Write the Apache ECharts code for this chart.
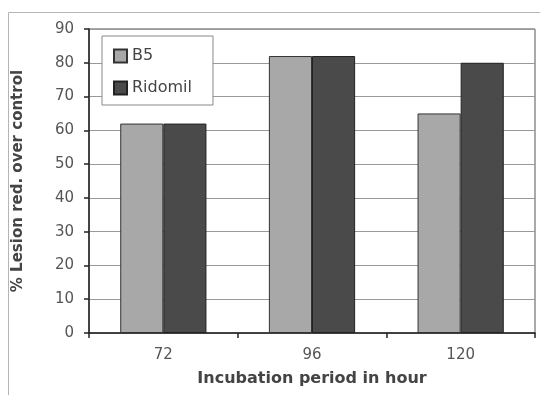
<!DOCTYPE html>
<html>
<head>
<meta charset="utf-8">
<script src="https://cdn.jsdelivr.net/npm/echarts@6/dist/echarts.min.js"></script>
<style>
  html, body { margin: 0; padding: 0; background: #fff; }
  #chart { width: 540px; height: 395px; }
</style>
</head>
<body>
<div id="chart"></div>
<script>
const categories = ['72', '96', '120'];
const b5Values = [62, 82, 65];
const ridomilValues = [62, 82, 80];
const yTicks = [0, 10, 20, 30, 40, 50, 60, 70, 80, 90];

const chart = echarts.init(document.getElementById('chart'));
const font = 'DejaVu Sans, sans-serif';

chart.setOption({
  backgroundColor: '#fff',
  animation: false,
  graphic: [
    {
      type: 'rect',
      shape: { x: 8.5, y: 12.5, width: 540, height: 400 },
      style: { fill: 'none', stroke: '#b5b5b5', lineWidth: 1 },
      silent: true
    }
  ],
  grid: {
    left: 89, right: 5, top: 29, bottom: 62,
    show: true, borderColor: '#555', borderWidth: 1
  },
  legend: {
    orient: 'vertical',
    left: 102, top: 36,
    padding: [12, 21, 9, 11],
    icon: 'rect',
    itemWidth: 13, itemHeight: 13, itemGap: 16,
    borderColor: '#888', borderWidth: 1,
    backgroundColor: '#fff',
    textStyle: { fontFamily: font, fontSize: 16, color: '#444' },
    data: ['B5', 'Ridomil']
  },
  xAxis: {
    type: 'category',
    data: categories,
    name: 'Incubation period in hour',
    nameLocation: 'middle',
    nameGap: 38,
    nameTextStyle: { fontFamily: font, fontSize: 16, fontWeight: 'bold', color: '#444' },
    axisLine: { lineStyle: { color: '#222', width: 1.5 } },
    axisTick: { show: true, length: 5, lineStyle: { color: '#222', width: 1.5 } },
    axisLabel: { fontFamily: font, fontSize: 15, color: '#555', margin: 15 }
  },
  yAxis: {
    type: 'value',
    min: 0, max: 90, interval: 10,
    name: '% Lesion red. over control',
    nameLocation: 'middle',
    nameGap: 63,
    nameTextStyle: { fontFamily: font, fontSize: 15, fontWeight: 'bold', color: '#444' },
    axisLine: { show: true, lineStyle: { color: '#222', width: 1.5 } },
    axisTick: { show: true, length: 5, lineStyle: { color: '#222', width: 1.5 } },
    axisLabel: {
      fontFamily: font, fontSize: 15, color: '#555', margin: 15,
      formatter: v => yTicks.includes(v) ? String(v) : ''
    },
    splitLine: { lineStyle: { color: '#999', width: 1 } }
  },
  series: [
    {
      name: 'B5',
      type: 'bar',
      data: b5Values,
      barWidth: '29%',
      barGap: '0%',
      itemStyle: { color: '#a8a8a8', borderColor: '#333', borderWidth: 1 }
    },
    {
      name: 'Ridomil',
      type: 'bar',
      data: ridomilValues,
      barWidth: '29%',
      itemStyle: { color: '#4a4a4a', borderColor: '#222', borderWidth: 1 }
    }
  ]
});
</script>
</body>
</html>
